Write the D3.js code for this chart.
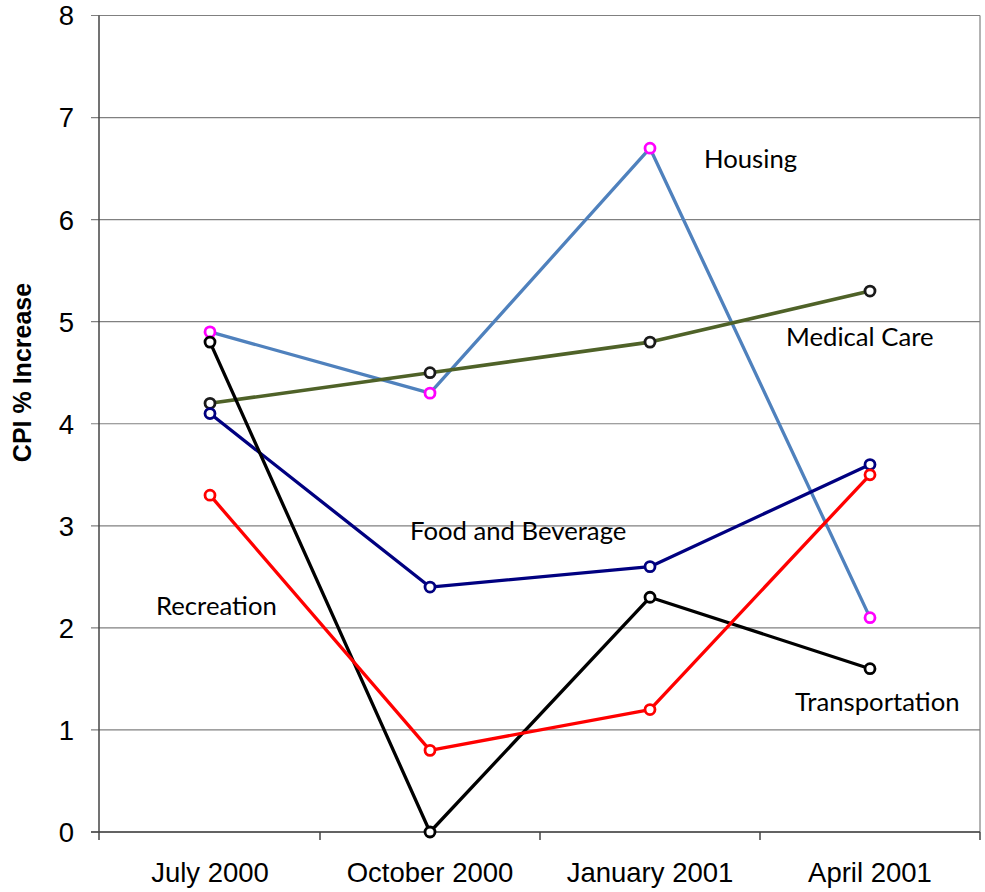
<!DOCTYPE html>
<html>
<head>
<meta charset="utf-8">
<script src="https://cdn.jsdelivr.net/npm/d3@7"></script>
<style>
  html, body { margin: 0; padding: 0; background: #fff; }
  svg { display: block; }
</style>
</head>
<body>
<svg id="chart" width="985" height="892"></svg>
<script>
// Quarterly CPI increases by component
const quarters = ["July 2000", "October 2000", "January 2001", "April 2001"];
const housing = [4.9, 4.3, 6.7, 2.1];
const medicalCare = [4.2, 4.5, 4.8, 5.3];
const foodAndBeverage = [4.1, 2.4, 2.6, 3.6];
const transportation = [4.8, 0.0, 2.3, 1.6];
const recreation = [3.3, 0.8, 1.2, 3.5];
const yTicks = [0, 1, 2, 3, 4, 5, 6, 7, 8];

const series = [
  { name: "Housing", values: housing, line: "#4F81BD", marker: "#FF00FF", width: 3.3, label: { x: 704, y: 168 } },
  { name: "Medical Care", values: medicalCare, line: "#4F6228", marker: "#1a1a1a", width: 3.6, label: { x: 786, y: 346 } },
  { name: "Food and Beverage", values: foodAndBeverage, line: "#000080", marker: "#000080", width: 3.3, label: { x: 410, y: 540 } },
  { name: "Transportation", values: transportation, line: "#000000", marker: "#000000", width: 3.3, label: { x: 795, y: 711 } },
  { name: "Recreation", values: recreation, line: "#FF0000", marker: "#FF0000", width: 3.3, label: { x: 156, y: 615 } }
];

const svg = d3.select("#chart");
const plotLeft = 100, plotRight = 980, plotTop = 15.5, plotBottom = 832;

const x = d3.scaleBand().domain(quarters).range([plotLeft, plotRight]);
const y = d3.scaleLinear().domain([0, 8]).range([plotBottom, plotTop]);

// horizontal gridlines with short tick stubs to the left of the axis
svg.append("g")
  .selectAll("line")
  .data(yTicks)
  .join("line")
  .attr("x1", plotLeft - 9).attr("x2", plotRight)
  .attr("y1", d => y(d)).attr("y2", d => y(d))
  .attr("stroke", "#808080").attr("stroke-width", 1.2);

// right border of the plot area
svg.append("line")
  .attr("x1", plotRight).attr("x2", plotRight).attr("y1", plotTop).attr("y2", plotBottom)
  .attr("stroke", "#808080").attr("stroke-width", 1.2);

// y axis line
svg.append("line")
  .attr("x1", plotLeft - 1).attr("x2", plotLeft - 1).attr("y1", plotTop).attr("y2", plotBottom)
  .attr("stroke", "#444").attr("stroke-width", 1.5);

// x axis line and category boundary ticks
svg.append("line")
  .attr("x1", plotLeft - 9).attr("x2", plotRight).attr("y1", plotBottom).attr("y2", plotBottom)
  .attr("stroke", "#444").attr("stroke-width", 1.5);
const boundaries = quarters.map(q => x(q)).concat([plotRight]);
svg.append("g")
  .selectAll("line")
  .data(boundaries)
  .join("line")
  .attr("x1", (d, i) => i === 0 ? d - 1 : d).attr("x2", (d, i) => i === 0 ? d - 1 : d)
  .attr("y1", plotBottom).attr("y2", plotBottom + 8)
  .attr("stroke", "#444").attr("stroke-width", 1.5);

// y tick labels
svg.append("g")
  .selectAll("text")
  .data(yTicks)
  .join("text")
  .attr("x", 74).attr("y", d => y(d))
  .attr("dy", "0.36em")
  .attr("text-anchor", "end")
  .attr("font-family", "Liberation Sans, Arial, sans-serif")
  .attr("font-size", 27.5)
  .attr("fill", "#000")
  .text(d => d);

// x tick labels
svg.append("g")
  .selectAll("text")
  .data(quarters)
  .join("text")
  .attr("x", d => x(d) + x.bandwidth() / 2)
  .attr("y", 882)
  .attr("text-anchor", "middle")
  .attr("font-family", "Liberation Sans, Arial, sans-serif")
  .attr("font-size", 27.5)
  .attr("fill", "#000")
  .text(d => d);

// y axis title
svg.append("text")
  .attr("transform", "translate(31,372.5) rotate(-90)")
  .attr("text-anchor", "middle")
  .attr("font-family", "Liberation Sans, Arial, sans-serif")
  .attr("font-size", 25)
  .attr("font-weight", "bold")
  .attr("fill", "#000")
  .text("CPI % Increase");

const cx = (d, i) => x(quarters[i]) + x.bandwidth() / 2;
const line = d3.line().x((d, i) => cx(d, i)).y(d => y(d));

series.forEach(s => {
  const g = svg.append("g");
  g.append("path")
    .datum(s.values)
    .attr("d", line)
    .attr("fill", "none")
    .attr("stroke", s.line)
    .attr("stroke-width", s.width)
    .attr("stroke-linejoin", "round");
  g.selectAll("circle")
    .data(s.values)
    .join("circle")
    .attr("cx", (d, i) => cx(d, i))
    .attr("cy", d => y(d))
    .attr("r", 5)
    .attr("fill", "#fff")
    .attr("stroke", s.marker)
    .attr("stroke-width", 2.8);
});

// series labels
svg.append("g")
  .selectAll("text")
  .data(series)
  .join("text")
  .attr("x", d => d.label.x)
  .attr("y", d => d.label.y)
  .attr("font-family", "Lato, 'Open Sans', sans-serif")
  .attr("font-size", 25.7)
  .attr("fill", "#000")
  .text(d => d.name);
</script>
</body>
</html>
